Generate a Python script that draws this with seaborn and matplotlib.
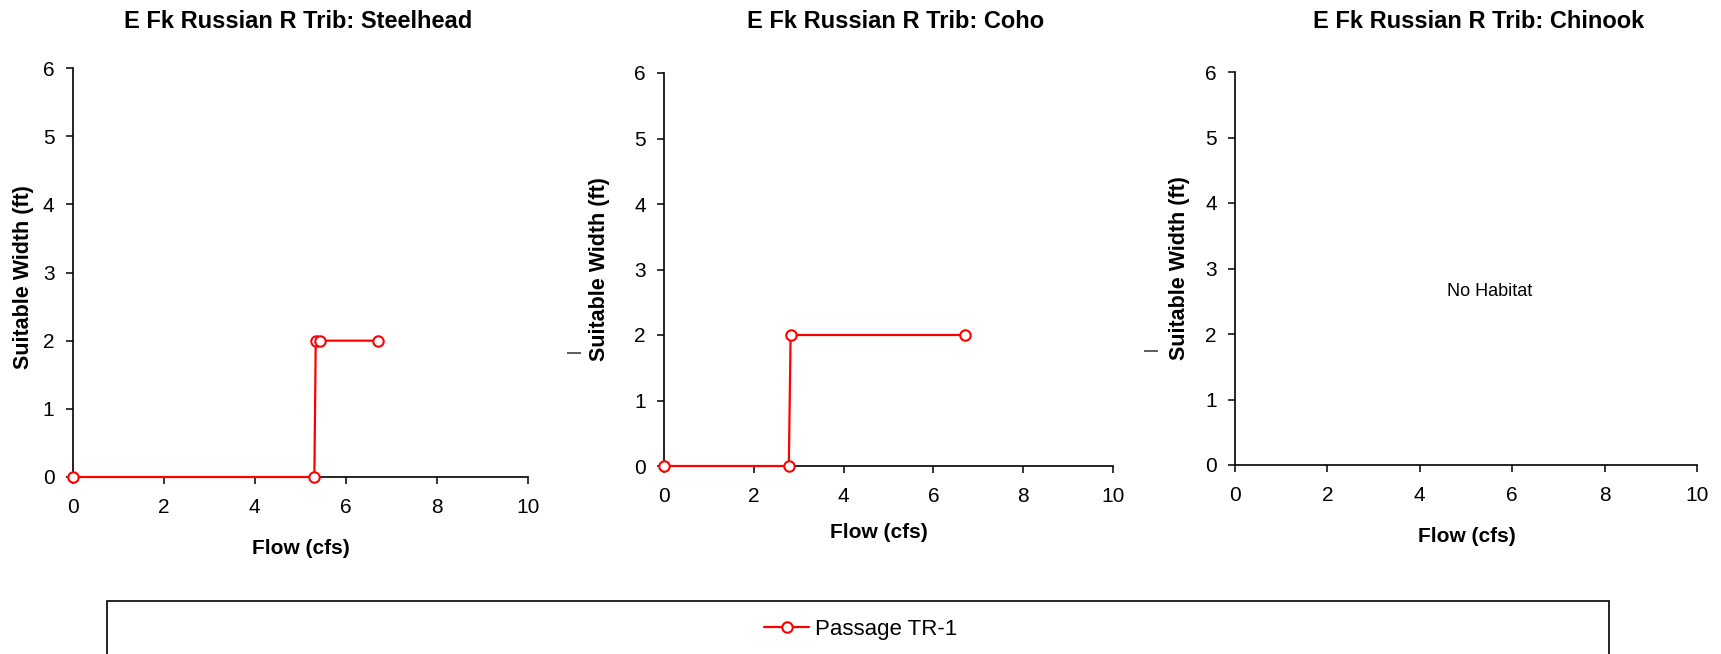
import matplotlib
matplotlib.use("Agg")
import matplotlib.pyplot as plt
import seaborn as sns
import pandas as pd
from matplotlib.patches import Rectangle
from matplotlib.lines import Line2D

# ---- data ----
titles = ["E Fk Russian R Trib: Steelhead",
          "E Fk Russian R Trib: Coho",
          "E Fk Russian R Trib: Chinook"]
steelhead_flow = [0.0, 5.31, 5.34, 5.43, 6.70]
steelhead_width = [0, 0, 2, 2, 2]
coho_flow = [0.0, 2.78, 2.82, 6.71]
coho_width = [0, 0, 2, 2]
chinook_flow = []
chinook_width = []
series_name = "Passage TR-1"
x_ticks = [0, 2, 4, 6, 8, 10]
y_ticks = [0, 1, 2, 3, 4, 5, 6]
no_habitat_text = "No Habitat"

sns.set_theme(style="white")
plt.rcParams["font.family"] = ["Liberation Sans", "DejaVu Sans"]
plt.rcParams["text.color"] = "black"
plt.rcParams["axes.labelcolor"] = "black"
plt.rcParams["xtick.color"] = "black"
plt.rcParams["ytick.color"] = "black"

W, H = 1721, 654
fig = plt.figure(figsize=(W / 100, H / 100), dpi=100)

def rect(l, r, t, b):
    return [l / W, 1 - b / H, (r - l) / W, (b - t) / H]

boxes = [rect(72.5, 528, 68, 477), rect(664, 1113, 73, 466), rect(1235, 1697, 72, 465)]
title_pos = [(298, 21), (896, 21), (1479, 22)]
xlabel_pos = [(301, 548), (879, 532), (1467, 537)]
ylabel_pos = [(24, 277), (600, 269), (1179, 268)]
dash_pos = [None, (574, 351), (1151, 349)]

data = [(steelhead_flow, steelhead_width), (coho_flow, coho_width), (chinook_flow, chinook_width)]
red = "#FF0000"

for i, (box, title) in enumerate(zip(boxes, titles)):
    ax = fig.add_axes(box)
    l, b, w, h = box
    L, R = l * W, (l + w) * W
    T, B = (1 - b - h) * H, (1 - b) * H

    def to_ax(px, py):
        return (px - L) / (R - L), (B - py) / (B - T)

    fx, fy = data[i]
    if len(fx):
        df = pd.DataFrame({"Flow": fx, "Width": fy})
        sns.lineplot(data=df, x="Flow", y="Width", ax=ax, color=red, lw=1.6,
                     marker="o", markersize=7.5, markerfacecolor="white",
                     markeredgecolor=red, markeredgewidth=1.5, sort=False,
                     clip_on=False, zorder=5)
    else:
        tx, ty = to_ax(1490, 291)
        ax.text(tx, ty, no_habitat_text, transform=ax.transAxes,
                ha="center", va="center", fontsize=13, color="black")

    ax.set_xlim(0, 10)
    ax.set_ylim(0, 6)
    ax.set_xticks(x_ticks)
    ax.set_yticks(y_ticks)
    ax.tick_params(axis="both", which="major", labelsize=15, direction="out",
                   length=5, width=1.1, color="black", labelcolor="black",
                   bottom=True, left=True)
    ax.tick_params(axis="x", pad=10)
    ax.tick_params(axis="y", pad=8)
    for s in ["top", "right"]:
        ax.spines[s].set_visible(False)
    for s in ["left", "bottom"]:
        ax.spines[s].set_color("black")
        ax.spines[s].set_linewidth(1.2)
    ax.set_facecolor("white")

    tx, ty = to_ax(*title_pos[i])
    ax.set_title(title, x=tx, y=ty, va="center", ha="center", pad=0,
                 fontsize=17, fontweight="bold", color="black")
    ax.set_xlabel("Flow (cfs)", fontsize=15, fontweight="bold", va="center")
    ax.xaxis.set_label_coords(*to_ax(*xlabel_pos[i]))
    ax.set_ylabel("Suitable Width (ft)", fontsize=15.5, fontweight="bold", va="center")
    ax.yaxis.set_label_coords(*to_ax(*ylabel_pos[i]))
    if dash_pos[i] is not None:
        dx, dy = to_ax(*dash_pos[i])
        ax.text(dx, dy, "|", transform=ax.transAxes, rotation=90,
                ha="center", va="center", fontsize=11, color="black")

# legend frame
fig.patches.append(Rectangle((107 / W, -0.05), (1609 - 107) / W, 0.05 + 1 - 601 / H,
                             transform=fig.transFigure, facecolor="white",
                             edgecolor="black", linewidth=1.2, zorder=0))
handle = Line2D([], [], color=red, lw=1.6, marker="o", markersize=7.5,
                markerfacecolor="white", markeredgecolor=red, markeredgewidth=1.5)
fig.legend([handle], [series_name], loc="center", bbox_to_anchor=(861 / W, 1 - 629 / H),
           frameon=False, fontsize=16, handlelength=2.0, handletextpad=0.3,
           labelcolor="black")

fig.savefig("out.png", dpi=100, facecolor="white")
